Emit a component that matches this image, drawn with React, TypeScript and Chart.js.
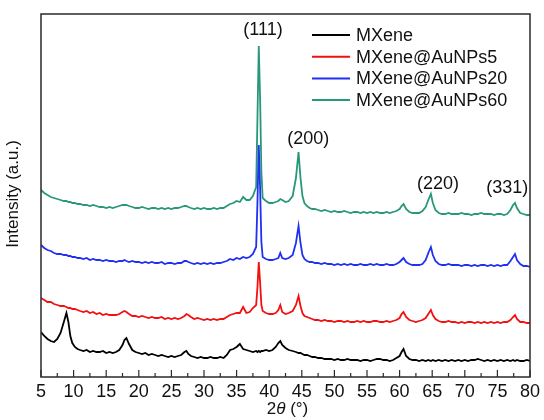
import { useEffect, useRef } from 'react';
import { Chart, registerables } from 'chart.js';

Chart.register(...registerables);

// 2θ positions (degrees)
const twoTheta = [
  5, 5.5, 6, 6.5, 7, 7.5, 8, 8.5, 8.9, 9.2,
  9.5, 9.8, 10.2, 10.6, 11, 11.5, 12, 12.5, 13, 13.5,
  14, 14.5, 15, 15.5, 16, 16.5, 17, 17.5, 17.8, 18.1,
  18.5, 19, 19.5, 20, 20.5, 21, 21.5, 22, 22.5, 23,
  23.5, 24, 24.5, 25, 25.5, 26, 26.5, 27, 27.3, 27.6,
  28, 28.5, 29, 29.5, 30, 30.5, 31, 31.5, 32, 32.5,
  33, 33.5, 34, 34.5, 35, 35.5, 36, 36.5, 37, 37.5,
  38, 38.2, 38.4, 38.6, 38.8, 39, 39.5, 40, 40.5, 41,
  41.4, 41.7, 42, 42.5, 43, 43.6, 44.1, 44.5, 44.8, 45.1,
  45.4, 45.8, 46.2, 46.6, 47, 47.5, 48, 48.5, 49, 49.5,
  50, 50.5, 51, 51.5, 52, 52.5, 53, 53.5, 54, 54.5,
  55, 55.5, 56, 56.5, 57, 57.5, 58, 58.5, 59, 59.5,
  60, 60.3, 60.6, 61, 61.5, 62, 62.5, 63, 63.5, 64,
  64.4, 64.8, 65.1, 65.5, 66, 66.5, 67, 67.5, 68, 68.5,
  69, 69.5, 70, 70.5, 71, 71.5, 72, 72.5, 73, 73.5,
  74, 74.5, 75, 75.5, 76, 76.5, 77, 77.4, 77.7, 78,
  78.5, 79, 79.5, 80,
];

// Offset intensities (a.u.)
const mxene = [
  45, 41, 38, 36, 35, 38, 44, 55, 64, 55,
  41, 34, 30, 28, 27, 26, 27, 25, 26, 25,
  25, 26, 24, 25, 24, 25, 27, 32, 37, 39,
  33, 27, 25, 24, 23, 24, 22, 23, 22, 21,
  22, 21, 20, 21, 20, 21, 22, 25, 26, 23,
  21, 20, 19, 20, 19, 19, 20, 19, 19, 20,
  19, 22, 27, 28, 30, 33, 28, 27, 26, 25,
  26, 25, 26, 25, 26, 26, 27, 26, 27, 30,
  34, 36, 32, 29, 27, 26, 25, 24, 24, 23,
  22, 22, 21, 20, 20, 19, 19, 18, 18, 18,
  17, 18, 17, 17, 18, 17, 17, 17, 16, 17,
  17, 16, 17, 18, 18, 17, 17, 16, 17, 19,
  21, 25, 28, 21, 18, 17, 17, 16, 17, 16,
  17, 16, 17, 16, 17, 16, 17, 16, 17, 16,
  17, 16, 17, 16, 17, 17, 18, 17, 16, 17,
  16, 17, 16, 17, 16, 17, 16, 17, 16, 17,
  16, 16, 17, 16,
];

const auNPs5 = [
  79, 77, 75, 75, 73, 72, 71, 71, 70, 69,
  69, 68, 68, 67, 66, 65, 66, 64, 65, 63,
  64, 62, 63, 62, 62, 62, 63, 65, 66, 65,
  63, 61, 61, 60, 61, 60, 59, 60, 59, 59,
  60, 58, 59, 58, 59, 58, 59, 61, 63, 62,
  60, 58, 59, 58, 57, 58, 57, 58, 57, 58,
  58, 60, 62, 63, 64, 64, 70, 64, 65, 69,
  72, 90, 115, 95, 72, 66, 64, 63, 63, 64,
  67, 72, 65, 63, 64, 66, 72, 81, 71, 64,
  61, 60, 59, 58, 57, 57, 56, 57, 56, 56,
  55, 56, 56, 55, 56, 55, 55, 56, 55, 56,
  55, 55, 56, 56, 55, 55, 56, 55, 56, 57,
  59, 63, 65, 60, 57, 56, 55, 56, 57, 59,
  63, 67, 62, 58, 56, 55, 55, 56, 55, 55,
  54, 55, 54, 55, 55, 54, 55, 54, 55, 54,
  55, 54, 55, 54, 55, 55, 57, 60, 62, 58,
  55, 55, 54, 54,
];

const auNPs20 = [
  132, 129, 127, 126, 124, 123, 123, 122, 122, 121,
  121, 120, 120, 119, 119, 118, 119, 117, 118, 117,
  117, 116, 117, 116, 116, 115, 116, 116, 117, 116,
  115, 116, 115, 115, 114, 115, 114, 115, 114, 114,
  115, 113, 114, 114, 113, 114, 114, 116, 116, 115,
  114, 113, 114, 113, 114, 113, 114, 113, 114, 114,
  115, 116, 118, 117, 119, 118, 120, 119, 120, 123,
  130, 175, 232, 190, 135, 120, 118, 117, 117, 118,
  119, 124, 119, 118, 119, 122, 134, 151, 134, 122,
  118, 116, 115, 115, 114, 114, 113, 114, 113, 113,
  112, 113, 112, 113, 112, 113, 112, 112, 113, 112,
  112, 113, 112, 113, 112, 112, 113, 112, 112, 113,
  115, 117, 119, 115, 113, 112, 112, 112, 113, 117,
  124, 130, 122, 116, 113, 112, 112, 113, 112, 112,
  112, 111, 112, 112, 111, 112, 111, 112, 112, 111,
  112, 111, 112, 111, 112, 112, 116, 120, 123, 117,
  113, 111, 111, 110,
];

const auNPs60 = [
  187, 184, 182, 180, 179, 178, 177, 176, 176, 175,
  175, 174, 174, 173, 173, 172, 172, 171, 172, 171,
  170, 170, 169, 170, 169, 170, 171, 172, 172, 172,
  171, 170, 169, 169, 170, 169, 168, 169, 169, 168,
  169, 168, 169, 168, 169, 169, 170, 171, 171, 170,
  169, 168, 169, 168, 169, 168, 168, 169, 168, 169,
  169, 171, 173, 174, 176, 175, 180, 177, 177, 181,
  190, 260, 331, 280, 205, 179, 176, 174, 174, 175,
  176, 178, 177, 175, 176, 181, 199, 225, 199, 181,
  174, 171, 169, 168, 168, 167, 166, 167, 166, 165,
  166, 165, 165, 166, 165, 164, 165, 165, 164, 165,
  164, 165, 164, 165, 164, 164, 165, 164, 165, 166,
  168, 171, 173, 168, 165, 164, 164, 164, 166, 170,
  177, 183, 174, 167, 164, 163, 163, 164, 163, 163,
  163, 164, 163, 163, 162, 163, 163, 164, 163, 163,
  163, 162, 163, 163, 162, 163, 167, 172, 174, 169,
  164, 163, 162, 162,
];

const seriesNames = ['MXene', 'MXene@AuNPs5', 'MXene@AuNPs20', 'MXene@AuNPs60'];
const seriesValues = [mxene, auNPs5, auNPs20, auNPs60];
const seriesColors = ['#000000', '#f21010', '#1f30f2', '#28977a'];

const peakLabels = ['(111)', '(200)', '(220)', '(331)'];
const peakLabelX = [39.05, 46.0, 65.9, 76.5];
const peakLabelY = [347, 238, 193, 189];

const FONT = '"Liberation Sans", Arial, Helvetica, sans-serif';

const decorPlugin = {
  id: 'decor',
  afterDraw(chart: any) {
    const { ctx, chartArea: a, scales } = chart;
    const xs = scales.x;
    const ys = scales.y;
    ctx.save();

    // frame
    ctx.strokeStyle = '#2a2a2a';
    ctx.lineWidth = 1.5;
    ctx.strokeRect(a.left, a.top, a.right - a.left, a.bottom - a.top);

    // inward ticks on bottom axis (major + minor)
    ctx.lineWidth = 1.2;
    const majors = xs.ticks.map((t: any) => t.value);
    majors.forEach((v: number, i: number) => {
      const px = xs.getPixelForValue(v);
      ctx.beginPath();
      ctx.moveTo(px, a.bottom);
      ctx.lineTo(px, a.bottom - 7);
      ctx.stroke();
      if (i < majors.length - 1) {
        const mv = (v + majors[i + 1]) / 2;
        const mp = xs.getPixelForValue(mv);
        ctx.beginPath();
        ctx.moveTo(mp, a.bottom);
        ctx.lineTo(mp, a.bottom - 4);
        ctx.stroke();
      }
    });

    // peak labels
    ctx.fillStyle = '#111';
    ctx.font = `18px ${FONT}`;
    ctx.textAlign = 'center';
    ctx.textBaseline = 'middle';
    peakLabels.forEach((t, i) => {
      ctx.fillText(t, xs.getPixelForValue(peakLabelX[i]), ys.getPixelForValue(peakLabelY[i]));
    });

    // legend
    ctx.textAlign = 'left';
    ctx.font = `18px ${FONT}`;
    seriesNames.forEach((name, i) => {
      const ry = 35 + i * 21.7;
      ctx.strokeStyle = seriesColors[i];
      ctx.lineWidth = 2;
      ctx.beginPath();
      ctx.moveTo(312, ry);
      ctx.lineTo(350, ry);
      ctx.stroke();
      ctx.fillStyle = '#111';
      ctx.fillText(name, 356, ry + 1);
    });

    // y title
    ctx.save();
    ctx.translate(13, 194);
    ctx.rotate(-Math.PI / 2);
    ctx.font = `17px ${FONT}`;
    ctx.textAlign = 'center';
    ctx.textBaseline = 'middle';
    ctx.fillText('Intensity (a.u.)', 0, 0);
    ctx.restore();

    // x title: 2θ (°) with italic θ
    const normal = `17px ${FONT}`;
    const italic = `italic 17px ${FONT}`;
    const parts: [string, string][] = [['2', normal], ['θ', italic], [' (°)', normal]];
    let total = 0;
    parts.forEach(([t, f]) => { ctx.font = f; total += ctx.measureText(t).width; });
    let cx = (a.left + a.right) / 2 + 2 - total / 2;
    const ty = 409;
    ctx.textAlign = 'left';
    ctx.textBaseline = 'middle';
    parts.forEach(([t, f]) => {
      ctx.font = f;
      ctx.fillText(t, cx, ty);
      cx += ctx.measureText(t).width;
    });

    ctx.restore();
  },
};

export default function App() {
  const ref = useRef<HTMLCanvasElement | null>(null);

  useEffect(() => {
    if (!ref.current) return;
    const datasets = seriesNames.map((name, i) => ({
      label: name,
      data: twoTheta.map((x, j) => ({ x, y: seriesValues[i][j] })),
      borderColor: seriesColors[i],
      backgroundColor: seriesColors[i],
      borderWidth: 1.8,
      pointRadius: 0,
      tension: 0,
      fill: false,
    }));
    const chart = new Chart(ref.current, {
      type: 'line',
      data: { datasets },
      options: {
        responsive: false,
        animation: false,
        layout: { padding: { top: 14, right: 14, left: 41, bottom: 0 } },
        plugins: { legend: { display: false }, tooltip: { enabled: false } },
        scales: {
          x: {
            type: 'linear',
            min: 5,
            max: 80,
            grid: { display: false },
            border: { display: false },
            ticks: {
              stepSize: 5,
              autoSkip: false,
              maxRotation: 0,
              padding: -4,
              color: '#111',
              font: { size: 18, family: FONT },
            },
            afterFit: (scale: any) => { scale.height = 43; },
          },
          y: {
            display: false,
            min: 0,
            max: 363,
          },
        },
      },
      plugins: [decorPlugin],
    });
    return () => chart.destroy();
  }, []);

  return (
    <div style={{ position: 'fixed', left: 0, top: 0, width: 544, height: 420, background: '#fff' }}>
      <canvas ref={ref} width={544} height={420} style={{ display: 'block' }} />
    </div>
  );
}
